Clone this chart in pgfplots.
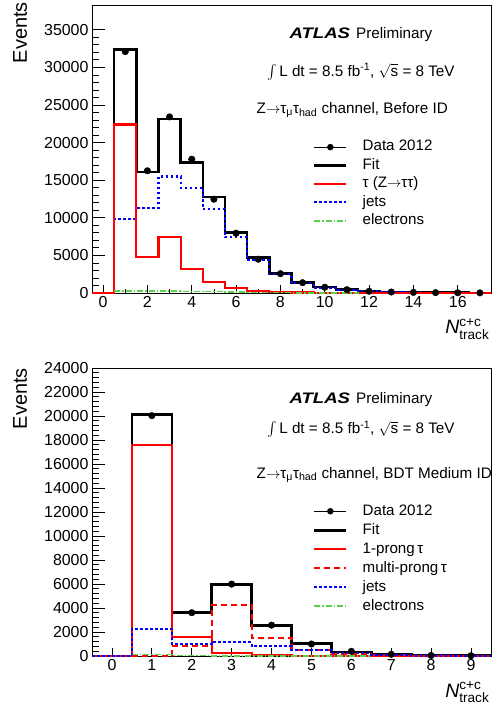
\documentclass[border=0pt]{standalone}
\usepackage{fontspec}
\setmainfont{Liberation Sans}
\usepackage{amsmath}
\usepackage{graphicx}
\usepackage{pgfplots}
\pgfplotsset{compat=1.18}

\definecolor{rootred}{rgb}{1,0,0}
\definecolor{rootblue}{rgb}{0,0,1}
\definecolor{rootgreen}{rgb}{0.35,0.82,0.3}
\newcommand{\fs}[1]{\fontsize{#1}{#1}\selectfont}
\newcommand{\arr}{$\rightarrow$}

\pgfplotsset{
  limg/.style={legend image code/.code={\draw[##1] (0bp,0bp) -- (32bp,0bp);}},
  dataimg/.style={legend image code/.code={\draw[black,line width=1bp] (0bp,0bp) -- (32bp,0bp); \fill[black] (16bp,0bp) circle (3bp);}},
  fitst/.style={black, line width=2.6bp},
  taust/.style={rootred, line width=2.2bp},
  multist/.style={rootred, line width=2.2bp, dash pattern=on 6bp off 4bp},
  jetst/.style={rootblue, line width=2.2bp, dash pattern=on 2.5bp off 2.5bp},
  elest/.style={rootgreen, line width=1.6bp, dash pattern=on 6bp off 2bp on 1.5bp off 2bp},
  atlas/.style={
    scale only axis, width=399bp, height=288bp,
    clip=false,
    axis line style={line width=0.8bp},
    tick pos=left, tick align=inside,
    ticklabel style={font=\fs{16}},
    /pgf/number format/assume math mode=true,
    /pgf/number format/1000 sep={},
    scaled y ticks=false,
    ytick style={/pgfplots/major tick length=13bp,/pgfplots/minor tick length=6.5bp, line width=0.8bp, black},
    xtick style={/pgfplots/major tick length=8bp,/pgfplots/minor tick length=4bp, line width=0.8bp, black},
    minor y tick num=4,
    ylabel={Events},
    ylabel style={font=\fs{20}, anchor=base east, inner sep=0pt},
    xlabel={\textit{N}$^{\text{c+c}}_{\text{track}}$},
    xlabel style={at={(axis description cs:1,0)}, anchor=base east, yshift=-41bp, xshift=-1.5bp, inner sep=0pt, font=\fs{19.5}},
    legend cell align=left,
    legend style={draw=none, fill=none, inner sep=0pt, outer sep=0pt, font=\fs{15.2},
      nodes={inner sep=0pt, text height=10.5bp, text depth=3bp},
      /tikz/every odd column/.style={column sep=15bp}},
  },
}

\begin{document}
\begin{tikzpicture}
\path[use as bounding box] (0bp,0bp) rectangle (504bp,708bp);

% ---------------- top panel ----------------
\begin{axis}[atlas, at={(92bp,415bp)}, anchor=south west,
  xmin=-0.5, xmax=17.5, ymin=0, ymax=38300,
  xtick={0,2,...,16}, minor x tick num=1,
  ytick={0,5000,...,35000},
  ylabel style={at={(axis description cs:-0.163,1.0104)}},
  legend style={at={(axis description cs:0.554,0.530)}, anchor=north west, row sep=4.9bp}]
\addlegendimage{dataimg}\addlegendentry{Data 2012}
\addlegendimage{limg, fitst}\addlegendentry{Fit}
\addlegendimage{limg, taust}\addlegendentry{τ (Z\arr ττ)}
\addlegendimage{limg, jetst}\addlegendentry{jets}
\addlegendimage{limg, elest}\addlegendentry{electrons}

% Fit
\addplot[fitst, const plot mark left, forget plot] coordinates {
(-0.5,0)(0.5,32400)(1.5,16100)(2.5,23160)(3.5,17340)(4.5,12740)(5.5,8030)(6.5,4750)(7.5,2570)(8.5,1400)(9.5,780)(10.5,440)(11.5,230)(12.5,130)(13.5,80)(14.5,50)(15.5,30)(16.5,20)(17.5,20)};
% jets
\addplot[jetst, const plot mark left, forget plot] coordinates {
(-0.5,0)(0.5,9810)(1.5,11270)(2.5,15480)(3.5,14010)(4.5,11140)(5.5,7410)(6.5,4390)(7.5,2490)(8.5,1290)(9.5,700)(10.5,400)(11.5,230)(12.5,120)(13.5,70)(14.5,40)(15.5,25)(16.5,15)(17.5,15)};
% tau
\addplot[taust, const plot mark left, forget plot] coordinates {
(-0.5,0)(0.5,22400)(1.5,4830)(2.5,7490)(3.5,3190)(4.5,1420)(5.5,620)(6.5,300)(7.5,130)(8.5,60)(9.5,30)(10.5,15)(11.5,10)(12.5,5)(13.5,5)(14.5,0)(15.5,0)(16.5,0)(17.5,0)};
% electrons
\addplot[elest, const plot mark left, forget plot] coordinates {
(0.5,280)(1.5,260)(2.5,250)(3.5,220)(4.5,180)(5.5,120)(6.5,70)(7.5,40)(8.5,20)(9.5,10)(10.5,5)(11.5,0)};
% data
\addplot[only marks, mark=*, mark size=3.3bp, black, forget plot] coordinates {
(1,32100)(2,16250)(3,23420)(4,17790)(5,12470)(6,7950)(7,4490)(8,2570)(9,1370)(10,760)(11,440)(12,230)(13,130)(14,80)(15,50)(16,30)(17,20)};

\node[anchor=base, font=\fs{15.3}, inner sep=0pt] at (axis description cs:0.674,0.882)
  {\scalebox{1.22}[1]{\bfseries\itshape ATLAS}\hspace{6bp}Preliminary};
\node[anchor=base, font=\fs{15.3}, inner sep=0pt] at (axis description cs:0.674,0.753)
  {$\int$\,L dt = 8.5 fb\textsuperscript{-1}, $\sqrt{\text{s}}$ = 8 TeV};
\node[anchor=base west, font=\fs{15.3}, inner sep=0pt] at (axis description cs:0.4123,0.623)
  {Z\arr τ\textsubscript{μ}τ\textsubscript{had} channel, Before ID};
\end{axis}

% ---------------- bottom panel ----------------
\begin{axis}[atlas, at={(92bp,52bp)}, anchor=south west,
  xmin=-0.5, xmax=9.5, ymin=0, ymax=24000,
  xtick={0,...,9},
  ytick={0,2000,...,24000},
  ylabel style={at={(axis description cs:-0.163,1.0)}},
  legend style={at={(axis description cs:0.554,0.526)}, anchor=north west, row sep=5.5bp}]
\addlegendimage{dataimg}\addlegendentry{Data 2012}
\addlegendimage{limg, fitst}\addlegendentry{Fit}
\addlegendimage{limg, taust}\addlegendentry{1-prong\,τ}
\addlegendimage{limg, multist}\addlegendentry{multi-prong\,τ}
\addlegendimage{limg, jetst}\addlegendentry{jets}
\addlegendimage{limg, elest}\addlegendentry{electrons}

% Fit
\addplot[fitst, const plot mark left, forget plot] coordinates {
(-0.5,0)(0.5,20100)(1.5,3610)(2.5,5975)(3.5,2560)(4.5,1030)(5.5,330)(6.5,150)(7.5,50)(8.5,20)(9.5,20)};
% 1-prong
\addplot[taust, const plot mark left, forget plot] coordinates {
(-0.5,0)(0.5,17580)(1.5,1610)(2.5,280)(3.5,60)(4.5,20)(5.5,0)(6.5,0)(7.5,0)(8.5,0)(9.5,0)};
% multi-prong
\addplot[multist, const plot mark left, forget plot] coordinates {
(-0.5,0)(0.5,30)(1.5,830)(2.5,4280)(3.5,1530)(4.5,500)(5.5,140)(6.5,60)(7.5,20)(8.5,10)(9.5,10)};
% jets
\addplot[jetst, const plot mark left, forget plot] coordinates {
(-0.5,0)(0.5,2250)(1.5,1030)(2.5,1190)(3.5,860)(4.5,500)(5.5,220)(6.5,80)(7.5,40)(8.5,20)(9.5,20)};
% electrons
\addplot[elest, const plot mark left, forget plot] coordinates {
(0.5,140)(1.5,30)(2.5,20)(3.5,15)(4.5,10)(5.5,5)(6.5,0)};
% data
\addplot[only marks, mark=*, mark size=3.3bp, black, forget plot] coordinates {
(1,20030)(2,3610)(3,5990)(4,2570)(5,1000)(6,390)(7,140)(8,45)(9,25)};

\node[anchor=base, font=\fs{15.3}, inner sep=0pt] at (axis description cs:0.674,0.875)
  {\scalebox{1.22}[1]{\bfseries\itshape ATLAS}\hspace{6bp}Preliminary};
\node[anchor=base, font=\fs{15.3}, inner sep=0pt] at (axis description cs:0.674,0.773)
  {$\int$\,L dt = 8.5 fb\textsuperscript{-1}, $\sqrt{\text{s}}$ = 8 TeV};
\node[anchor=base west, font=\fs{15.3}, inner sep=0pt] at (axis description cs:0.4123,0.618)
  {Z\arr τ\textsubscript{μ}τ\textsubscript{had} channel, BDT Medium ID};
\end{axis}
\end{tikzpicture}
\end{document}
